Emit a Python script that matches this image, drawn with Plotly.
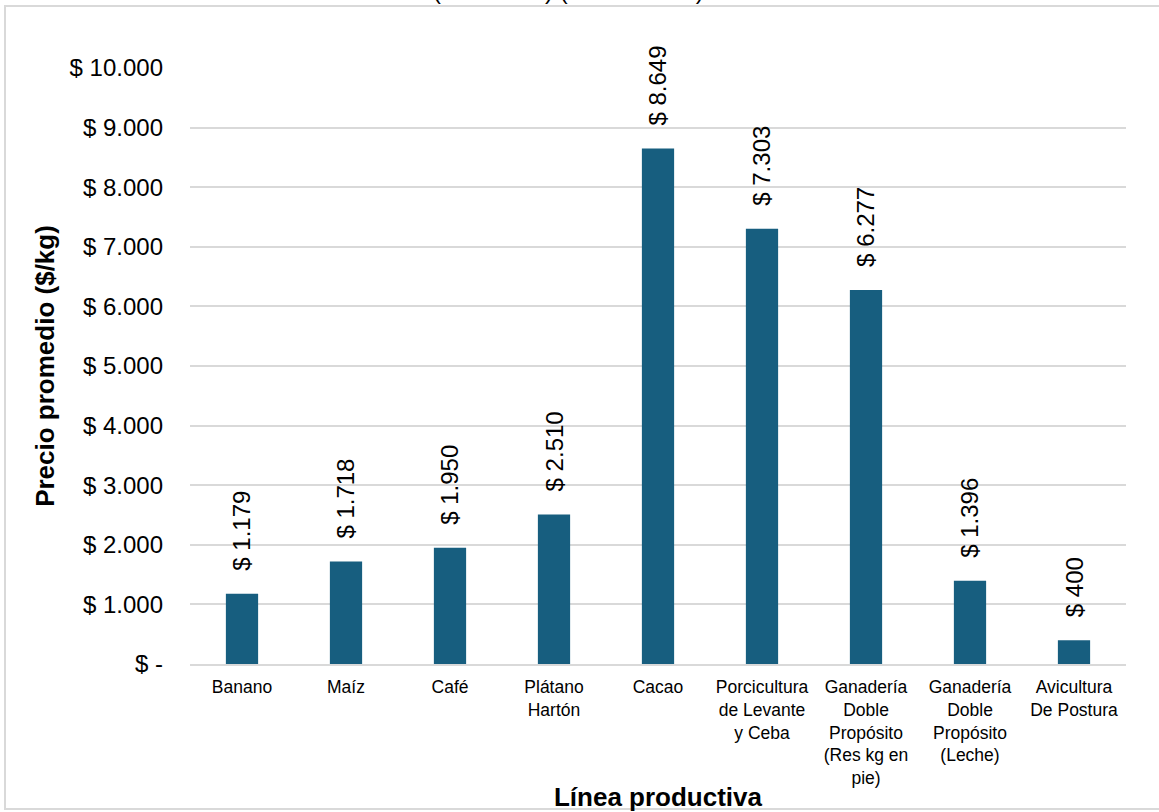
import plotly.graph_objects as go

categories = ["Banano", "Maíz", "Café", "Plátano<br>Hartón", "Cacao",
              "Porcicultura<br>de Levante<br>y Ceba",
              "Ganadería<br>Doble<br>Propósito<br>(Res kg en<br>pie)",
              "Ganadería<br>Doble<br>Propósito<br>(Leche)",
              "Avicultura<br>De Postura"]
values = [1179, 1718, 1950, 2510, 8649, 7303, 6277, 1396, 400]
value_labels = ["$ 1.179", "$ 1.718", "$ 1.950", "$ 2.510", "$ 8.649",
                "$ 7.303", "$ 6.277", "$ 1.396", "$ 400"]
tick_vals = [0, 1000, 2000, 3000, 4000, 5000, 6000, 7000, 8000, 9000, 10000]
tick_text = ["$ -", "$ 1.000", "$ 2.000", "$ 3.000", "$ 4.000", "$ 5.000",
             "$ 6.000", "$ 7.000", "$ 8.000", "$ 9.000", "$ 10.000"]
title_text = "(Casanare) (2016 - 2020)"

W, H = 1159, 812
L, R, T, B = 190, 33, 68, 148
pw, ph = W - L - R, H - T - B
FONT = "Liberation Sans, Arial"

fig = go.Figure()
fig.add_trace(go.Bar(x=categories, y=values, marker_color="#175E7F",
                     width=0.31, marker_line_width=0, hoverinfo="skip"))

for c, v, t in zip(categories, values, value_labels):
    fig.add_annotation(x=c, y=v, text=t, textangle=-90, showarrow=False,
                       xanchor="center", yanchor="bottom", yshift=21,
                       font=dict(family=FONT, size=24, color="#000"))

# title, mostly above the visible page as in the reference
fig.add_annotation(xref="paper", yref="paper", x=(568 - L) / pw,
                   y=(H - B + 10) / ph, text=title_text, showarrow=False,
                   xanchor="center", yanchor="middle",
                   font=dict(family=FONT, size=24, color="#000"))

fig.add_shape(type="rect", xref="paper", yref="paper",
              x0=(5 - L) / pw, x1=(1170 - L) / pw,
              y0=-(809 - (H - B)) / ph, y1=(H - B - 6) / ph,
              line=dict(color="#D9D9D9", width=2), fillcolor="rgba(0,0,0,0)", layer="below")

fig.update_layout(
    width=W, height=H,
    margin=dict(l=L, r=R, t=T, b=B, autoexpand=False),
    paper_bgcolor="white", plot_bgcolor="white",
    showlegend=False,
    font=dict(family=FONT, color="#000"),
    xaxis=dict(tickfont=dict(size=17.5), showgrid=False, showline=True,
               linecolor="#D9D9D9", linewidth=2, ticks="", ticklabelstandoff=6,
               title=dict(text="<b>Línea productiva</b>", font=dict(size=26), standoff=4),
               automargin=False, tickangle=0),
    yaxis=dict(range=[0, 10000], tickvals=tick_vals, ticktext=tick_text,
               tickfont=dict(size=24), showgrid=True, gridcolor="#D9D9D9", gridwidth=2,
               zeroline=False, ticks="", ticklabelstandoff=26,
               title=dict(text="<b>Precio promedio ($/kg)</b>", font=dict(size=26), standoff=7),
               automargin=False),
)

fig.write_html("out.html", config={"displayModeBar": False},
               post_script="document.body.style.margin='0';document.body.style.padding='0';")
